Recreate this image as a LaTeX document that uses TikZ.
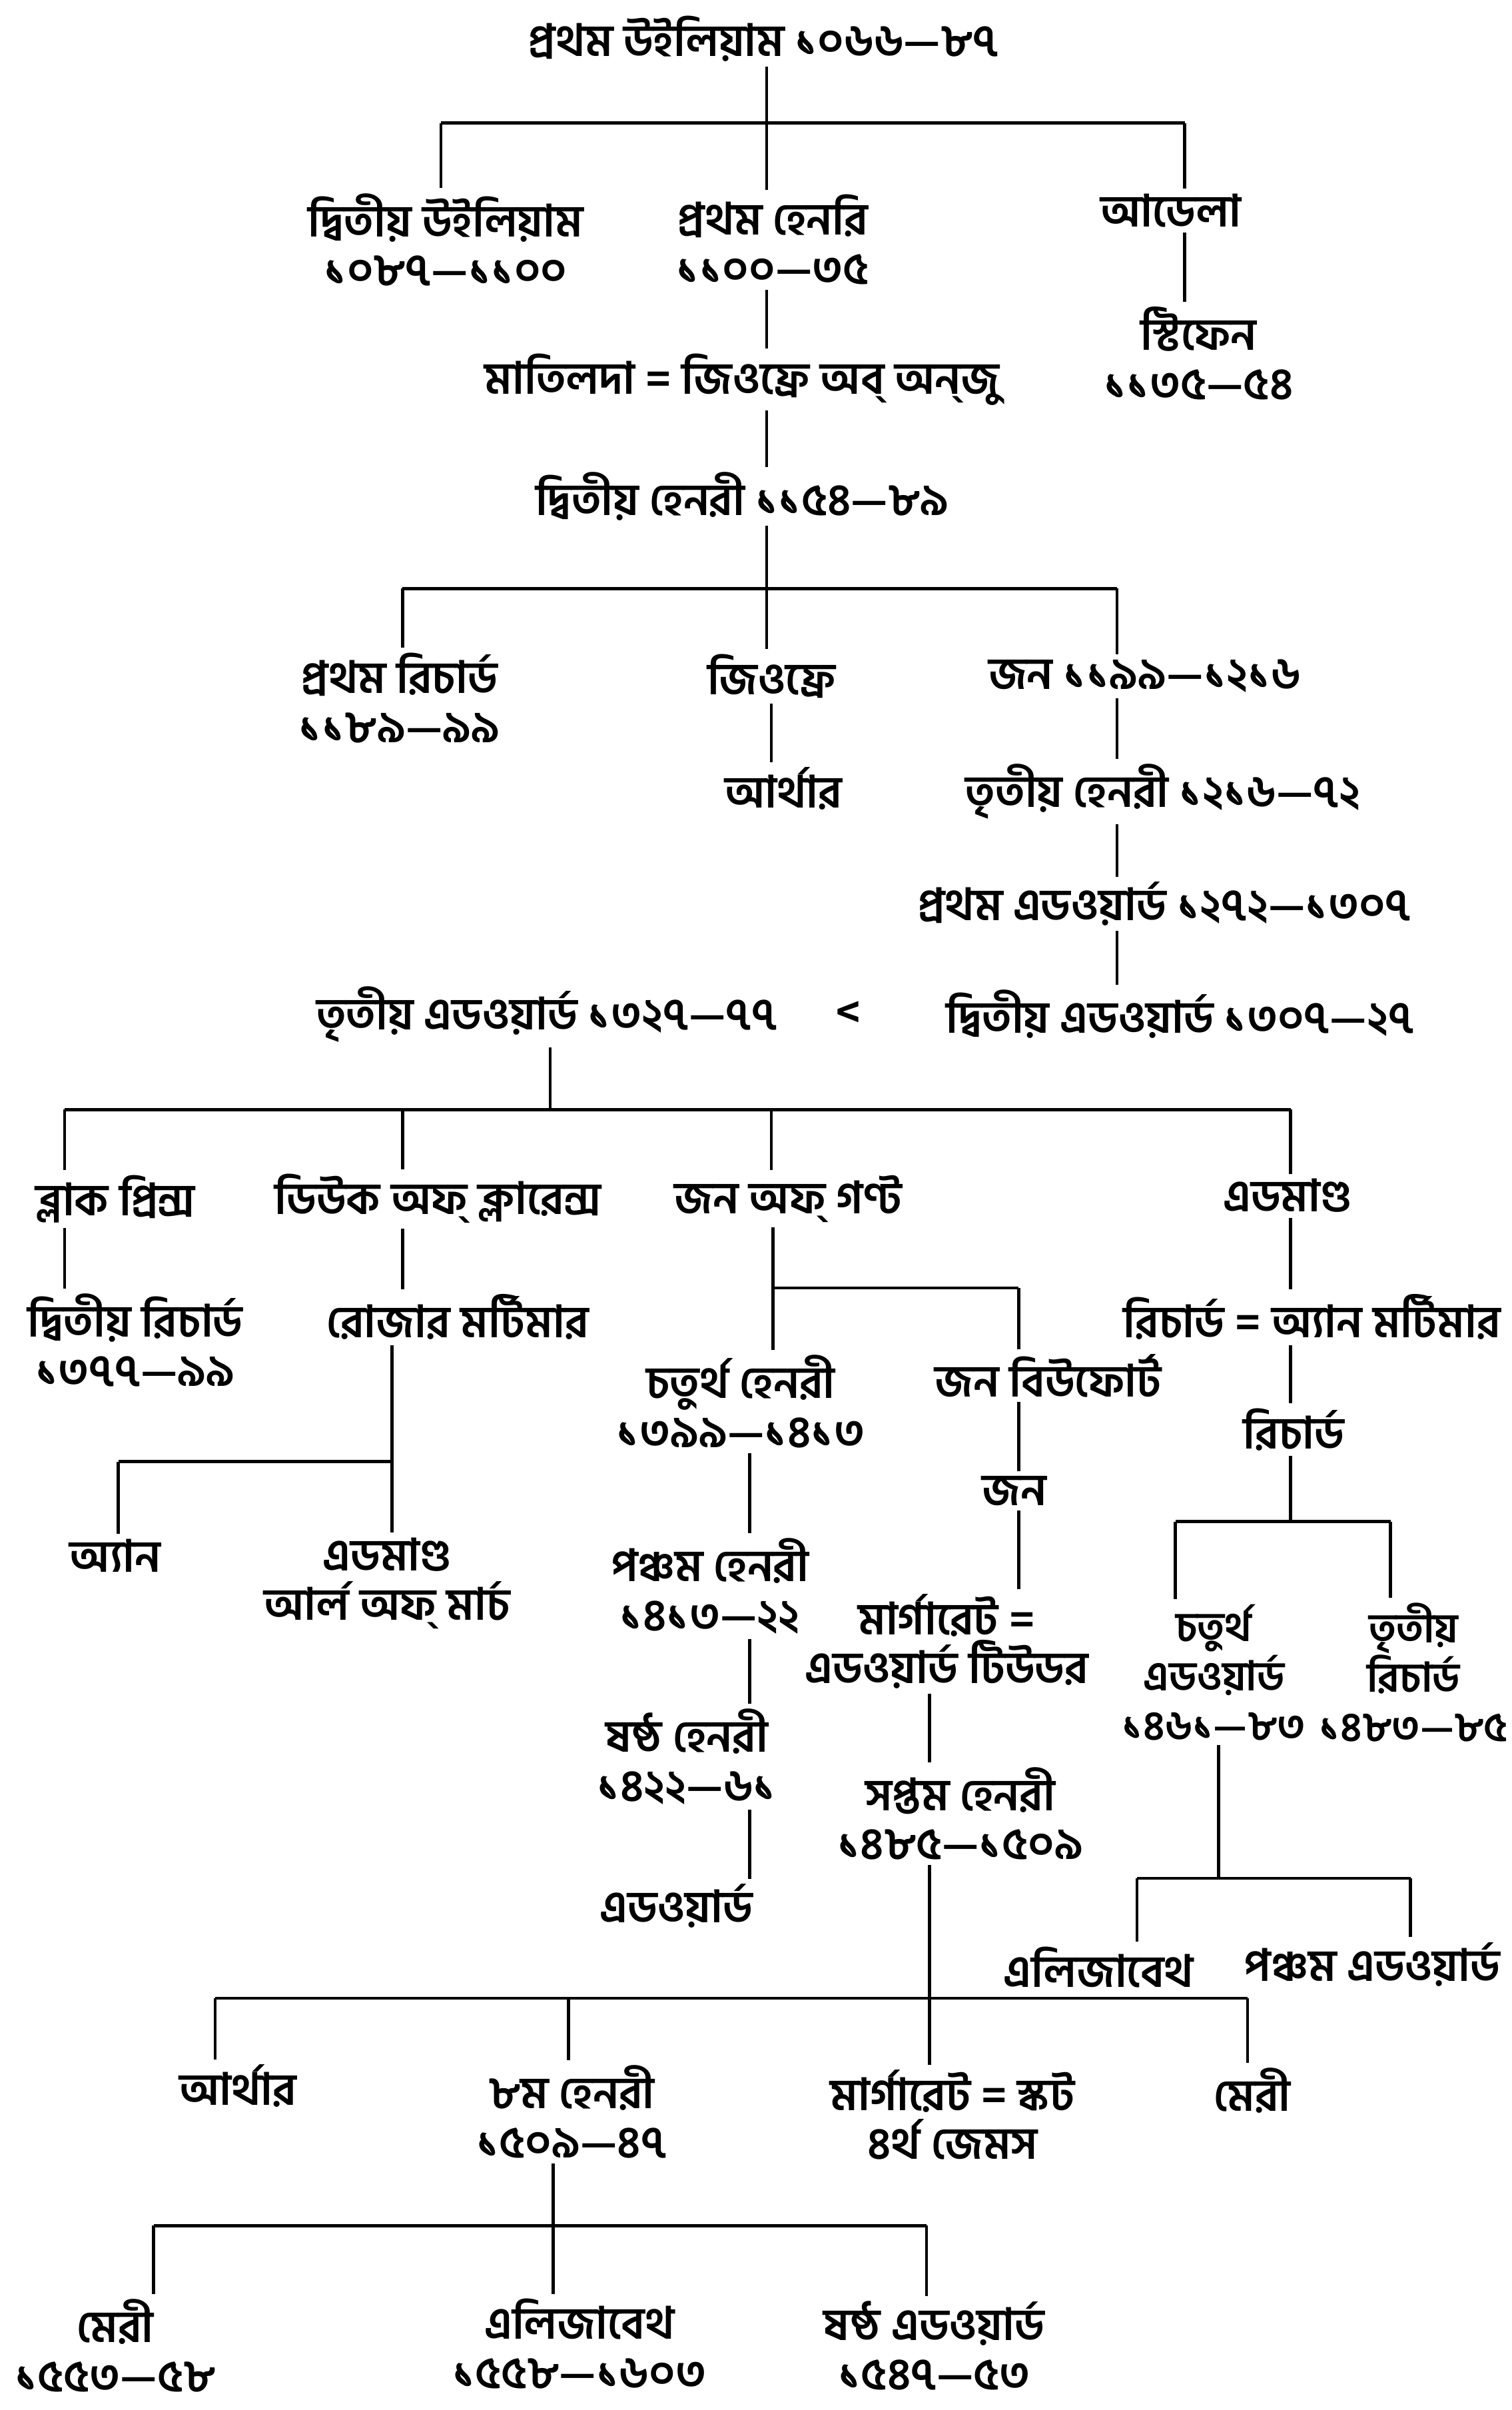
\documentclass[tikz,border=0pt]{standalone}
\usepackage{fontspec}
\newfontfamily\bnfont[Script=Bengali]{Hind Siliguri}
\usetikzlibrary{calc}

\begin{document}
\begin{tikzpicture}[
  % coordinates are read off the page, y running downwards
  x=0.02307cm, y=-0.02307cm,
  person/.style={font=\bnfont\bfseries\fontsize{19}{21}\selectfont, align=center, inner sep=2pt},
  % the two York brothers stand close together, so a size smaller
  tight/.style={person, font=\bnfont\bfseries\fontsize{17.5}{21}\selectfont},
  link/.style={line width=1.3pt},
]
\useasboundingbox (0,0) rectangle (984,1568);

% Normans
\node[person] (wil1)  at (497,25)   {প্রথম উইলিয়াম ১০৬৬—৮৭};
\node[person] (wil2)  at (290,156)  {দ্বিতীয় উইলিয়াম\\১০৮৭—১১০০};
\node[person] (hen1)  at (503,156)  {প্রথম হেনরি\\১১০০—৩৫};
\node[person] (adela) at (762,137)  {আডেলা};
\node[person] (steph) at (780,230)  {স্টিফেন\\১১৩৫—৫৪};
\node[person] (matil) at (483,247)  {মাতিলদা = জিওফ্রে অব্ অন্‌জু};

% Plantagenets
\node[person] (hen2)  at (483,323)  {দ্বিতীয় হেনরী ১১৫৪—৮৯};
\node[person] (ric1)  at (260,454)  {প্রথম রিচার্ড\\১১৮৯—৯৯};
\node[person] (geof)  at (502,440)  {জিওফ্রে};
\node[person] (arth1) at (510,513)  {আর্থার};
\node[person] (john)  at (745,440)  {জন ১১৯৯—১২১৬};
\node[person] (hen3)  at (757,515)  {তৃতীয় হেনরী ১২১৬—৭২};
\node[person] (edw1)  at (758,588)  {প্রথম এডওয়ার্ড ১২৭২—১৩০৭};
\node[person] (edw2)  at (768,660)  {দ্বিতীয় এডওয়ার্ড ১৩০৭—২৭};
\node[person] (edw3)  at (356,660)  {তৃতীয় এডওয়ার্ড ১৩২৭—৭৭};
\node[person] (mark)  at (552,660)  {<};

% sons of Edward III
\node[person] (bpr)   at (75,780)   {ব্লাক প্রিন্স};
\node[person] (clar)  at (285,780)  {ডিউক অফ্ ক্লারেন্স};
\node[person] (gaunt) at (513,780)  {জন অফ্ গণ্ট};
\node[person] (edmy)  at (838,778)  {এডমাণ্ড};
\node[person] (ric2)  at (88,872)   {দ্বিতীয় রিচার্ড\\১৩৭৭—৯৯};
\node[person] (roger) at (298,857)  {রোজার মর্টিমার};
\node[person] (hen4)  at (482,912)  {চতুর্থ হেনরী\\১৩৯৯—১৪১৩};
\node[person] (jbeau) at (682,895)  {জন বিউফোর্ট};
\node[person] (ricann) at (854,857) {রিচার্ড = অ্যান মর্টিমার};
\node[person] (ricyk) at (842,930)  {রিচার্ড};
\node[person] (anne)  at (75,1012)  {অ্যান};
\node[person] (edmar) at (252,1030) {এডমাণ্ড\\আর্ল অফ্ মার্চ};
\node[person] (hen5)  at (462,1032) {পঞ্চম হেনরী\\১৪১৩—২২};
\node[person] (john2) at (660,970)  {জন};
\node[person] (marg)  at (616,1068) {মার্গারেট =\\এডওয়ার্ড টিউডর};
\node[tight]  (edw4)  at (790,1088) {চতুর্থ\\এডওয়ার্ড\\১৪৬১—৮৩};
\node[tight]  (ric3)  at (920,1088) {তৃতীয়\\রিচার্ড\\১৪৮৩—৮৫};
\node[person] (hen6)  at (447,1143) {ষষ্ঠ হেনরী\\১৪২২—৬১};
\node[person] (hen7)  at (625,1180) {সপ্তম হেনরী\\১৪৮৫—১৫০৯};
\node[person] (edw)   at (440,1240) {এডওয়ার্ড};
\node[person] (elyk)  at (715,1280) {এলিজাবেথ};
\node[person] (edw5)  at (893,1278) {পঞ্চম এডওয়ার্ড};

% Tudors
\node[person] (arth2) at (155,1357) {আর্থার};
\node[person] (hen8)  at (372,1374) {৮ম হেনরী\\১৫০৯—৪৭};
\node[person] (margs) at (620,1376) {মার্গারেট = স্কট\\৪র্থ জেমস};
\node[person] (marys) at (815,1360) {মেরী};
\node[person] (mary1) at (75,1526)  {মেরী\\১৫৫৩—৫৮};
\node[person] (eliz1) at (377,1525) {এলিজাবেথ\\১৫৫৮—১৬০৩};
\node[person] (edw6)  at (608,1526) {ষষ্ঠ এডওয়ার্ড\\১৫৪৭—৫৩};

% William I and his children
\coordinate (w1)  at (499,80);
\coordinate (w1l) at (287,80);
\coordinate (w1r) at (771,80);
\draw[link] (wil1.south -| w1) -- (w1);
\draw[link] (w1l) -- (w1r);
\draw[link] (w1l) -- (w1l |- wil2.north);
\draw[link] (w1) -- (w1 |- hen1.north);
\draw[link] (w1r) -- (w1r |- adela.north);
\draw[link] (adela.south -| w1r) -- (steph.north -| w1r);
\draw[link] (hen1.south -| w1) -- (matil.north -| w1);
\draw[link] (matil.south -| w1) -- (hen2.north -| w1);

% Henry II and his sons
\coordinate (h2)  at (499,383);
\coordinate (h2l) at (262,383);
\coordinate (h2r) at (727,383);
\draw[link] (hen2.south -| h2) -- (h2);
\draw[link] (h2l) -- (h2r);
\draw[link] (h2l) -- (h2l |- ric1.north);
\draw[link] (h2) -- (h2 |- geof.north);
\draw[link] (h2r) -- (h2r |- john.north);
\draw[link] (geof.south) -- (geof.south |- arth1.north);
\draw[link] (john.south -| h2r) -- (hen3.north -| h2r);
\draw[link] (hen3.south -| h2r) -- (edw1.north -| h2r);
\draw[link] (edw1.south -| h2r) -- (edw2.north -| h2r);

% Edward III and his sons
\coordinate (e3)  at (358,722);
\coordinate (e3a) at (42,722);
\coordinate (e3b) at (262,722);
\coordinate (e3c) at (502,722);
\coordinate (e3d) at (840,722);
\draw[link] (edw3.south -| e3) -- (e3);
\draw[link] (e3a) -- (e3d);
\draw[link] (e3a) -- (e3a |- bpr.north);
\draw[link] (e3b) -- (e3b |- clar.north);
\draw[link] (e3c) -- (e3c |- gaunt.north);
\draw[link] (e3d) -- (e3d |- edmy.north);
\draw[link] (bpr.south -| e3a) -- (ric2.north -| e3a);
\draw[link] (clar.south -| e3b) -- (roger.north -| e3b);

% Mortimer line
\coordinate (rm)  at (255,951);
\coordinate (rml) at (77,951);
\draw[link] (roger.south -| rm) -- (rm);
\draw[link] (rml) -- (rm);
\draw[link] (rml) -- (rml |- anne.north);
\draw[link] (rm) -- (rm |- edmar.north);

% Lancaster and Beaufort
\coordinate (jg)  at (503,838);
\coordinate (jgr) at (663,838);
\coordinate (lc)  at (488,0);
\draw[link] (gaunt.south -| jg) -- (jg |- hen4.north);
\draw[link] (jg) -- (jgr);
\draw[link] (jgr) -- (jgr |- jbeau.north);
\draw[link] (hen4.south -| lc) -- (hen5.north -| lc);
\draw[link] (hen5.south -| lc) -- (hen6.north -| lc);
\draw[link] (hen6.south -| lc) -- (edw.north -| lc);
\draw[link] (jbeau.south -| jgr) -- (john2.north -| jgr);
\draw[link] (john2.south -| jgr) -- (marg.north -| jgr);

% York
\coordinate (ry)  at (840,990);
\coordinate (ryl) at (765,990);
\coordinate (ryr) at (905,990);
\draw[link] (edmy.south -| e3d) -- (ricann.north -| e3d);
\draw[link] (ricann.south -| e3d) -- (ricyk.north -| e3d);
\draw[link] (ricyk.south -| ry) -- (ry);
\draw[link] (ryl) -- (ryr);
\draw[link] (ryl) -- (ryl |- edw4.north);
\draw[link] (ryr) -- (ryr |- ric3.north);
\coordinate (e4)  at (793,1222);
\coordinate (e4l) at (740,1222);
\coordinate (e4r) at (918,1222);
\draw[link] (edw4.south -| e4) -- (e4);
\draw[link] (e4l) -- (e4r);
\draw[link] (e4l) -- (e4l |- elyk.north);
\draw[link] (e4r) -- (e4r |- edw5.north);

% Henry VII and his children
\coordinate (h7)  at (605,1300);
\coordinate (h7a) at (140,1300);
\coordinate (h7b) at (370,1300);
\coordinate (h7d) at (812,1300);
\draw[link] (marg.south -| h7) -- (hen7.north -| h7);
\draw[link] (hen7.south -| h7) -- (h7 |- margs.north);
\draw[link] (h7a) -- (h7d);
\draw[link] (h7a) -- (h7a |- arth2.north);
\draw[link] (h7b) -- (h7b |- hen8.north);
\draw[link] (h7d) -- (h7d |- marys.north);

% Henry VIII and his children
\coordinate (h8)  at (360,1448);
\coordinate (h8l) at (100,1448);
\coordinate (h8r) at (603,1448);
\draw[link] (hen8.south -| h8) -- (h8);
\draw[link] (h8l) -- (h8r);
\draw[link] (h8l) -- (h8l |- mary1.north);
\draw[link] (h8) -- (h8 |- eliz1.north);
\draw[link] (h8r) -- (h8r |- edw6.north);

\end{tikzpicture}
\end{document}
